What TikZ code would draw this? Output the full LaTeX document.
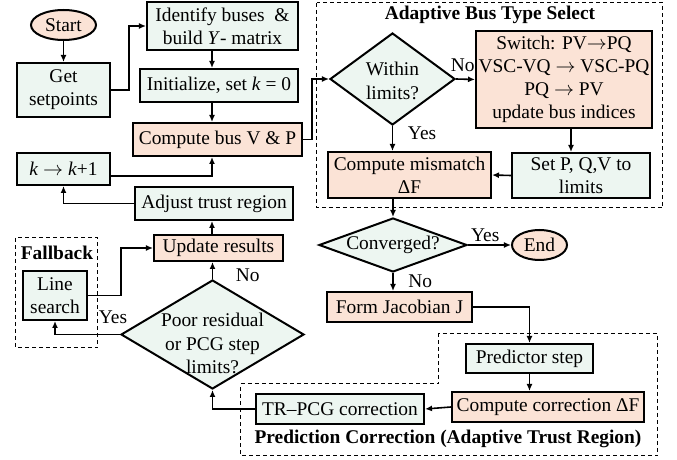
\documentclass[tikz,border=0pt]{standalone}
\usepackage{fontspec}
\setmainfont{Liberation Serif}
\usetikzlibrary{shapes.geometric,arrows.meta}
\definecolor{bxP}{HTML}{FBE3D6}
\definecolor{bxG}{HTML}{EDF6F1}
\newcommand{\tto}{\ensuremath{\rightarrow}}

\begin{document}
\begin{tikzpicture}[x=0.5pt, y=-0.5pt,
    font=\fontsize{9.7}{11.6}\selectfont,
    sz/.style 2 args={minimum width={#1*0.5pt}, minimum height={#2*0.5pt}},
    box/.style={draw, line width=1pt, inner sep=1pt, align=center},
    dia/.style 2 args={draw, line width=1pt, shape=diamond, inner sep=0pt, fill=bxG,
                label={[align=center, yshift=#1]center:#2}},
    term/.style={draw, line width=1pt, shape=ellipse, inner sep=0pt, fill=bxP},
    arr/.style={line width=0.8pt, -{Latex[length=3.5pt, width=3pt]}},
    frame/.style={line width=0.5pt, dash pattern=on 2pt off 1.5pt},
    ttl/.style={font=\fontsize{9.7}{11.6}\selectfont\bfseries}]
  \useasboundingbox (0,0) rectangle (677,460);
  \coordinate (spine) at (212,0);

  % dashed groups and their titles
  \draw[frame] (317,3) rectangle (663,208);
  \draw[frame] (16,238) rectangle (98,348);
  \draw[frame] (241,384) -- (439,384) -- (439,334) -- (658,334) -- (658,456) -- (241,456) -- cycle;
  \node[ttl] (tAdapt) at (490,15) {Adaptive Bus Type Select};
  \node[ttl] (tFall) at (57,253) {Fallback};
  \node[ttl] (tPred) at (448,439) {Prediction Correction (Adaptive Trust Region)};

  % left column
  \node[term, sz={65}{30}] (start) at (63.5,25) {Start};
  \node[box, fill=bxG, sz={93}{54}] (getsp) at (63.5,90) {Get\\setpoints};
  \node[box, fill=bxG, sz={93}{32}] (kinc) at (63.5,169) {\textit{k} \tto{} \textit{k}+1};
  \node[box, fill=bxG, sz={64}{49}] (lsearch) at (55,295.5) {Line\\search};

  % middle column
  \node[box, fill=bxG, sz={151}{48}] (ident) at (222.5,26) {Identify buses \ \&\\build \textit{Y}- matrix};
  \node[box, fill=bxG, sz={158}{33}] (init) at (219,85.5) {Initialize, set \textit{k} = 0};
  \node[box, fill=bxP, sz={169}{33}] (compv) at (217.5,139.5) {Compute bus V \& P};
  \node[box, fill=bxG, sz={158}{33}] (adjust) at (214,203.5) {Adjust trust region};
  \node[box, fill=bxP, sz={129}{26}] (update) at (218.5,248) {Update results};
  \node[dia={-4.5pt}{Poor residual\\or PCG step\\limits?}, sz={183}{109}] (poor) at (212.5,334.5) {};

  % bus type selection
  \node[dia={-1pt}{Within\\limits?}, sz={125}{92}] (within) at (392.5,79) {};
  \node[box, fill=bxP, sz={176}{97}] (switch) at (564,79.5) {Switch: PV\tto{}PQ\\VSC-VQ \tto{} VSC-PQ\\PQ \tto{} PV\\update bus indices};
  \node[box, fill=bxG, sz={138}{45}] (setp) at (581,175.5) {Set P, Q,V to\\limits};
  \node[box, fill=bxP, sz={163}{46}] (mism) at (409.5,175) {Compute mismatch\\ΔF};

  % convergence and correction
  \node[dia={0pt}{Converged?}, sz={148}{54}] (conv) at (393,245) {};
  \node[term, sz={55}{30}] (endn) at (539.5,245) {End};
  \node[box, fill=bxP, sz={145}{30}] (jac) at (399.5,307) {Form Jacobian J};
  \node[box, fill=bxG, sz={127}{29}] (pred) at (529.5,358.5) {Predictor step};
  \node[box, fill=bxP, sz={192}{30}] (corr) at (548,407) {Compute correction ΔF};
  \node[box, fill=bxG, sz={168}{30}] (trpcg) at (340,409) {TR–PCG correction};

  % straight links
  \foreach \a/\b in {start.south/getsp.north, setp.west/mism.east, corr.west/trpcg.east}
    \draw[arr] (\a) -- (\b);
  \draw[arr] (ident.south -| spine) -- (init.north -| spine);
  \draw[arr] (init.south -| spine) -- (compv.north -| spine);
  \draw[arr] (update.north -| spine) -- (adjust.south -| spine);
  \draw[arr] (within.east) -- node[above, pos=0.35] {No} (switch.west);
  \draw[arr] (within.south) -- node[right, pos=0.3, xshift=4pt] {Yes} (within.south |- mism.north);
  \draw[arr] ([xshift=3.5pt]switch.south) -- ([xshift=3.5pt]switch.south |- setp.north);
  \draw[arr] (conv.north |- mism.south) -- (conv.north);
  \draw[arr] (conv.east) -- node[above, pos=0.4, yshift=-2pt] {Yes} (endn.west);
  \draw[arr] (conv.south) -- node[right, pos=0.45, xshift=4pt] {No} (conv.south |- jac.north);
  \draw[arr] (pred.south) -- (pred.south |- corr.north);
  \draw[arr] (poor.north) -- node[right, pos=0.25, xshift=8pt] {No} (poor.north |- update.south);

  % bent links
  \draw[arr] (getsp.east) -- ++(18,0) |- (ident.west);
  \draw[arr] (compv.east) -- ++(9,0) |- (within.west);
  \draw[arr] (jac.east) -| (pred.north);
  \draw[arr] (trpcg.west) -| (poor.south);
  \draw[arr] (adjust.west) -| (kinc.south);
  \draw[arr] ([yshift=-3.5pt]kinc.east) -| (compv.south -| spine);
  \draw[arr] (poor.west) -| (lsearch.south);
  \draw[arr] (lsearch.east) -- ++(33,0) |- (update.west);
  \node (lYes) at (113,317) {Yes};
\end{tikzpicture}
\end{document}
